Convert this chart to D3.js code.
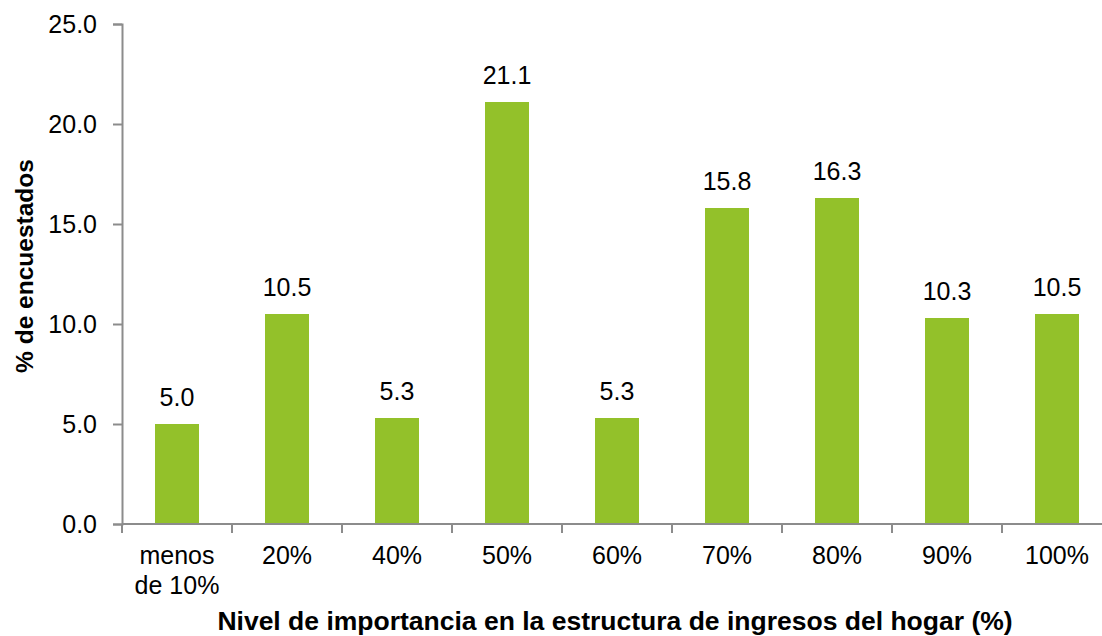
<!DOCTYPE html>
<html><head><meta charset="utf-8">
<script src="https://cdn.jsdelivr.net/npm/d3@7"></script>
<style>body{margin:0;background:#fff}svg{display:block}text{font-family:"Liberation Sans",Arial,sans-serif}</style>
</head><body><svg id="c" width="1102" height="636"></svg>
<script>
const categories = ["menos de 10%","20%","40%","50%","60%","70%","80%","90%","100%"];
const values = [5.0,10.5,5.3,21.1,5.3,15.8,16.3,10.3,10.5];
const yTicks = [0,5,10,15,20,25];
const xTitle = "Nivel de importancia en la estructura de ingresos del hogar (%)";
const yTitle = "% de encuestados";

(function(){
const svg = d3.select("#c");
const mLeft = 122, mTop = 24, mBottom = 524, mRight = 1112;
const x = d3.scaleBand().domain(categories).range([mLeft, mRight]).paddingInner(0.6).paddingOuter(0.3);
const y = d3.scaleLinear().domain([0,25]).range([mBottom, mTop]);
const axisColor = "#8c8c8c";
const fs = 25;

// y axis
const ya = svg.append("g").attr("transform",`translate(${mLeft},0)`)
  .call(d3.axisLeft(y).tickValues(yTicks).tickFormat(d3.format(".1f")).tickSize(9).tickPadding(16));
ya.select(".domain").attr("stroke",axisColor).attr("stroke-width",2);
ya.selectAll(".tick line").attr("stroke",axisColor).attr("stroke-width",2);
ya.selectAll(".tick text").attr("font-size",fs).attr("fill","#000").attr("font-family","Liberation Sans, Arial, sans-serif");

// bars
svg.append("g").selectAll("rect").data(values).join("rect")
  .attr("x",(d,i)=>x(categories[i])).attr("width",x.bandwidth())
  .attr("y",d=>y(d)).attr("height",d=>y(0)-y(d)).attr("fill","#93C12A");

// value labels
svg.append("g").selectAll("text").data(values).join("text")
  .attr("x",(d,i)=>x(categories[i])+x.bandwidth()/2).attr("y",d=>y(d)-18)
  .attr("text-anchor","middle").attr("font-size",fs).attr("fill","#000")
  .text(d=>d3.format(".1f")(d));

// x axis
const step = x.step();
const xa = svg.append("g");
xa.append("line").attr("x1",mLeft).attr("x2",mRight).attr("y1",mBottom).attr("y2",mBottom).attr("stroke",axisColor).attr("stroke-width",2);
const tickPos = d3.range(categories.length+1).map(i=>mLeft + i*step);
xa.selectAll("line.t").data(tickPos).join("line").attr("class","t")
  .attr("x1",d=>d).attr("x2",d=>d).attr("y1",mBottom).attr("y2",mBottom+9).attr("stroke",axisColor).attr("stroke-width",2);
const lab = xa.selectAll("text").data(categories).join("text")
  .attr("text-anchor","middle").attr("font-size",fs).attr("fill","#000")
  .attr("transform",d=>`translate(${x(d)+x.bandwidth()/2},${mBottom+40})`);
lab.each(function(d){
  const parts = d==="menos de 10%" ? ["menos","de 10%"] : [d];
  const t = d3.select(this);
  parts.forEach((p,i)=>t.append("tspan").attr("x",0).attr("dy",i?30:0).text(p));
});

// titles
svg.append("text").attr("x",615).attr("y",630).attr("text-anchor","middle")
  .attr("font-size",26.5).attr("font-weight","bold").text(xTitle);
svg.append("text").attr("transform","translate(33,266) rotate(-90)").attr("text-anchor","middle")
  .attr("font-size",24.5).attr("font-weight","bold").text(yTitle);
})();
</script></body></html>
